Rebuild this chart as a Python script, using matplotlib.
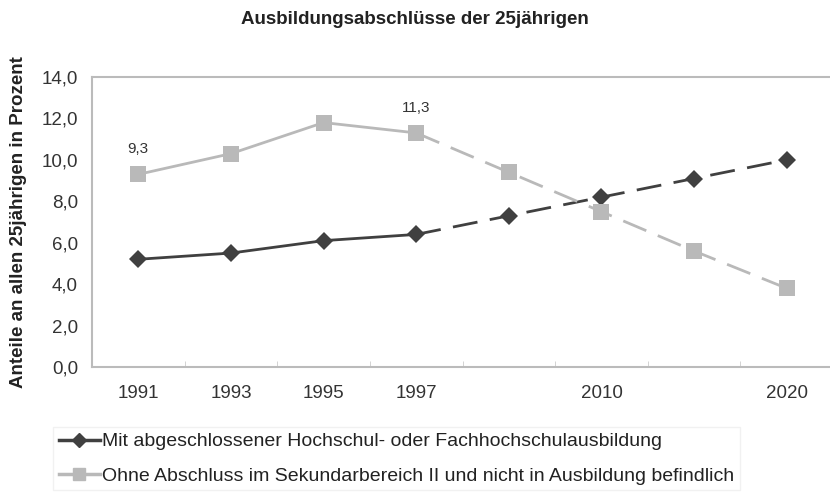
import matplotlib
matplotlib.use('Agg')
import matplotlib.pyplot as plt
from matplotlib.lines import Line2D

plt.rcParams['font.family'] = ['Liberation Sans', 'DejaVu Sans']

# categories (blank = projection years without label)
years = ['1991', '1993', '1995', '1997', '', '2010', '', '2020']
hochschule = [5.2, 5.5, 6.1, 6.4, 7.3, 8.2, 9.1, 10.0]
ohne_abschluss = [9.3, 10.3, 11.8, 11.3, 9.4, 7.5, 5.6, 3.8]
label_hs = 'Mit abgeschlossener Hochschul- oder Fachhochschulausbildung'
label_oa = 'Ohne Abschluss im Sekundarbereich II und nicht in Ausbildung befindlich'
split = 3  # last measured point, after that dashed

dark = '#404040'
light = '#b9b9b9'

fig = plt.figure(figsize=(8.3, 4.92), dpi=100)
ax = fig.add_axes([92 / 830, 125 / 492, 741 / 830, 290 / 492])

x = list(range(len(years)))
for vals, col, mk, ms in [(hochschule, dark, 'D', 9), (ohne_abschluss, light, 's', 11)]:
    ax.plot(x[:split + 1], vals[:split + 1], color=col, lw=2, solid_capstyle='butt')
    ax.plot(x[split:], vals[split:], color=col, lw=2, linestyle=(0, (9, 4.5)))
    ax.plot(x, vals, color=col, lw=0, marker=mk, markersize=ms, markeredgewidth=0)

# data labels
for i in [0, 3]:
    ax.annotate(f'{ohne_abschluss[i]:.1f}'.replace('.', ','), (x[i], ohne_abschluss[i]),
                xytext=(0, 13), textcoords='offset points', ha='center', va='bottom',
                fontsize=11, color='#333333')

ax.set_xlim(-0.5, len(years) - 0.5)
ax.set_ylim(0, 14)
ax.set_yticks(range(0, 15, 2))
ax.set_yticklabels([f'{v:.1f}'.replace('.', ',') for v in range(0, 15, 2)], fontsize=13.5, color='#333333')
ax.set_xticks(x)
ax.set_xticklabels(years, fontsize=13.5, color='#333333')
ax.set_xticks([i - 0.5 for i in range(len(years) + 1)], minor=True)
ax.tick_params(axis='x', which='major', length=0, pad=13)
ax.tick_params(axis='x', which='minor', length=4, color='#cccccc', direction='in')
ax.tick_params(axis='y', length=0, pad=10)

for s in ['top', 'left', 'bottom']:
    ax.spines[s].set_color('#bbbbbb')
    ax.spines[s].set_linewidth(1.5)
ax.spines['right'].set_visible(False)

ax.set_ylabel('Anteile an allen 25jährigen in Prozent', fontsize=13.5, fontweight='bold',
              color='#222222')
ax.yaxis.set_label_coords(-0.088, 0.5)

fig.text(415 / 830, 1 - 19 / 492, 'Ausbildungsabschlüsse der 25jährigen', ha='center',
         va='center', fontsize=13.5, fontweight='bold', color='#222222')

handles = [Line2D([], [], color=dark, lw=2.5, marker='D', markersize=7),
           Line2D([], [], color=light, lw=2.5, marker='s', markersize=9)]
leg = fig.legend(handles, [label_hs, label_oa], loc='upper left',
                 bbox_to_anchor=(53 / 830, 1 - 427 / 492), fontsize=14, frameon=True,
                 fancybox=False, handlelength=2.1, handletextpad=0.1, borderpad=0.3,
                 labelspacing=0.85, borderaxespad=0)
leg.get_frame().set_edgecolor('#eeeeee')
for t in leg.get_texts():
    t.set_color('#222222')

fig.savefig('out.png', dpi=100)
